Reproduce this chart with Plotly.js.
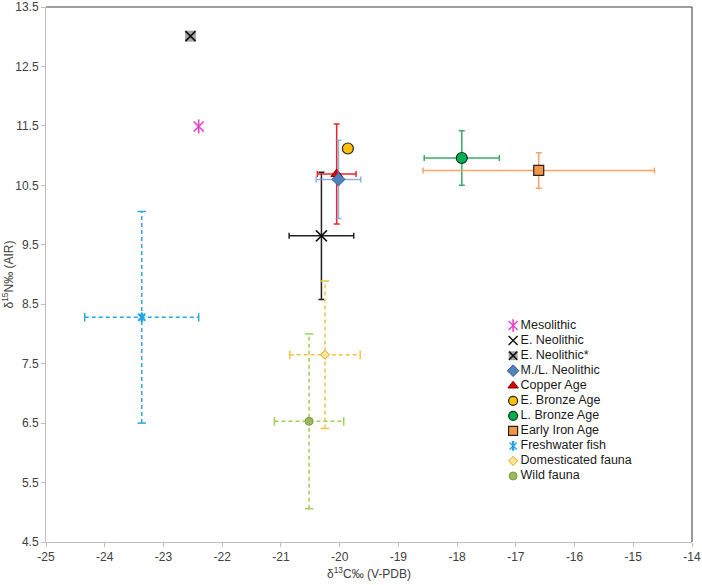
<!DOCTYPE html>
<html>
<head>
<meta charset="utf-8">
<script src="https://cdn.plot.ly/plotly-3.0.1.min.js"></script>
<style>html,body{margin:0;padding:0;background:#fff;}#chart{width:702px;height:585px;}</style>
</head>
<body>
<div id="chart"></div>
<script>
// ---- data ----
const categories = ['Mesolithic','E. Neolithic','E. Neolithic*','M./L. Neolithic','Copper Age','E. Bronze Age','L. Bronze Age','Early Iron Age','Freshwater fish','Domesticated fauna','Wild fauna'];
const d13C = [-22.40,-20.31,-22.54,-20.02,-20.05,-19.86,-17.92,-16.61,-23.37,-20.25,-20.52];
const d15N = [11.49,9.65,13.01,10.60,10.69,11.12,10.96,10.75,8.28,7.65,6.53];
const sdC  = [null,0.55,null,0.38,0.33,null,0.64,1.97,0.97,0.60,0.59];
const sdN  = [null,1.07,null,0.66,0.84,null,0.46,0.30,1.78,1.24,1.47];
const xTicks = [-25,-24,-23,-22,-21,-20,-19,-18,-17,-16,-15,-14];
const yTicks = [4.5,5.5,6.5,7.5,8.5,9.5,10.5,11.5,12.5,13.5];

// ---- styles ----
const styles = [
  {sym:'x-thin-open', sym2:'line-ns-open', color:'#ea3ccf', line:'#ea3ccf', lw:1.6, size:10, bar:'#ea3ccf'},
  {sym:'x-thin-open', color:'#111', line:'#111', lw:1.5, size:11, bar:'#222', thick:1.5},
  {sym:'square', sym2:'x-thin-open', color:'#a6a6a6', line:'#a6a6a6', lw:0, size:11, line2:'#111', lw2:1.6, size2:10, bar:'#222'},
  {sym:'diamond', color:'#4f81bd', line:'#3a5f8f', lw:1, size:10, bar:'rgba(110,150,215,0.75)', thick:1.5},
  {sym:'triangle-up', color:'#e00000', line:'#7a0000', lw:1, size:10, bar:'#e8262a', thick:1.5},
  {sym:'circle', color:'#ffc000', line:'#222', lw:1.2, size:11, bar:'#ffc000'},
  {sym:'circle', color:'#00b050', line:'#113322', lw:1.2, size:11, bar:'#3daa6b', thick:1.5},
  {sym:'square', color:'#f79646', line:'#222', lw:1.2, size:10, bar:'#f5a565', thick:1.5},
  {sym:'x-thin-open', sym2:'line-ns-open', color:'#1fa5e0', line:'#1fa5e0', lw:2.2, size:7, bar:'#2aa8e0', dashed:true},
  {sym:'diamond', color:'#ffe699', line:'#d9a520', lw:1, size:7, bar:'#f5c242', dashed:true},
  {sym:'circle', color:'#9bbb59', line:'#7f9a45', lw:1, size:8, bar:'#9bcf5a', dashed:true}
];

const drawOrder = [0,1,2,4,3,5,6,7,8,9,10];
const traces = [];

function markerOf(s){
  return {symbol:s.sym, size:s.size, color:s.color, line:{color:s.line, width:s.lw}};
}
function marker2Of(s, scale){
  const sz = (s.size2 || s.size) * (scale||1);
  return {symbol:s.sym2, size:sz, color:s.line2||s.line, line:{color:s.line2||s.line, width:s.lw2||s.lw}};
}

drawOrder.forEach(i=>{
  const s = styles[i];
  const x = d13C[i], y = d15N[i];
  if (s.dashed) {
    traces.push({type:'scatter', mode:'lines+markers', x:[x - sdC[i], x + sdC[i]], y:[y, y],
      line:{color:s.bar, width:1.5, dash:'4px,3px'},
      marker:{symbol:'line-ns-open', size:6, line:{color:s.bar, width:1.5}},
      hoverinfo:'skip', showlegend:false});
    traces.push({type:'scatter', mode:'lines+markers', x:[x, x], y:[y - sdN[i], y + sdN[i]],
      line:{color:s.bar, width:1.5, dash:'4px,3px'},
      marker:{symbol:'line-ew-open', size:6, line:{color:s.bar, width:1.5}},
      hoverinfo:'skip', showlegend:false});
    traces.push({type:'scatter', mode:'markers', x:[x], y:[y], name:categories[i],
      marker:markerOf(s), showlegend:false});
  } else {
    const t = {type:'scatter', mode:'markers', x:[x], y:[y], name:categories[i],
      marker:markerOf(s), showlegend:false};
    if (sdC[i] != null) t.error_x = {type:'data', array:[sdC[i]], visible:true, color:s.bar, thickness:s.thick||1.5, width:3};
    if (sdN[i] != null) t.error_y = {type:'data', array:[sdN[i]], visible:true, color:s.bar, thickness:s.thick||1.5, width:3};
    traces.push(t);
  }
  if (s.sym2) {
    traces.push({type:'scatter', mode:'markers', x:[x], y:[y], hoverinfo:'skip',
      marker:marker2Of(s), showlegend:false});
  }
});

// ---- custom legend on a secondary axis pair ----
const legIdx = categories.map((c,i)=>i);
categories.forEach((c,i)=>{
  const s = styles[i];
  const k = Math.min(1, 9 / s.size);
  traces.push({type:'scatter', mode:'markers', x:[0], y:[i], xaxis:'x2', yaxis:'y2', hoverinfo:'skip',
    marker:{symbol:s.sym, size:s.size*k, color:s.color, line:{color:s.line, width:Math.min(s.lw,1.4)}}, showlegend:false});
  if (s.sym2) traces.push({type:'scatter', mode:'markers', x:[0], y:[i], xaxis:'x2', yaxis:'y2', hoverinfo:'skip',
    marker:marker2Of(s, k), showlegend:false});
});
traces.push({type:'scatter', mode:'text', x:legIdx.map(()=>0.5), y:legIdx, text:categories,
  textposition:'middle right', xaxis:'x2', yaxis:'y2', hoverinfo:'skip', cliponaxis:false,
  textfont:{family:'Liberation Sans, Arial, sans-serif', size:12.5, color:'#1a1a1a'}, showlegend:false});

const tickFont = {family:'Liberation Sans, Arial, sans-serif', size:12, color:'#404040'};

const layout = {
  width:702, height:585,
  margin:{l:46, r:10, t:7, b:43},
  paper_bgcolor:'#fff', plot_bgcolor:'#fff',
  showlegend:false,
  xaxis:{range:[-25,-14], tickvals:xTicks, ticktext:xTicks.map(String), showgrid:false, zeroline:false,
    showline:true, linecolor:'#bfbfbf', linewidth:1, ticks:'outside', ticklen:4, tickcolor:'#bfbfbf',
    tickfont:tickFont, automargin:false, ticklabeloverflow:'allow',
    title:{text:'δ<sup>13</sup>C‰ (V-PDB)', font:{family:'Liberation Sans, Arial, sans-serif', size:12, color:'#404040'}, standoff:6}},
  yaxis:{range:[4.5,13.5], tickvals:yTicks, ticktext:yTicks.map(v=>v.toFixed(1)), showgrid:false, zeroline:false,
    showline:true, linecolor:'#bfbfbf', linewidth:1, ticks:'outside', ticklen:4, tickcolor:'#bfbfbf',
    tickfont:tickFont, automargin:false, ticklabeloverflow:'allow',
    title:{text:'δ<sup>15</sup>N‰ (AIR)', font:{family:'Liberation Sans, Arial, sans-serif', size:12, color:'#404040'}, standoff:4}},
  xaxis2:{domain:[0.70,1.0], range:[-1,12], visible:false, fixedrange:true},
  yaxis2:{domain:[0.1093,0.4186], range:[10.5,-0.5], visible:false, fixedrange:true, anchor:'x2'},
  shapes:[
    {type:'line', xref:'paper', yref:'paper', x0:0, x1:1, y0:1, y1:1, line:{color:'#7f7f7f', width:1.5}},
    {type:'line', xref:'paper', yref:'paper', x0:1, x1:1, y0:0, y1:1, line:{color:'#555', width:1.2}}
  ]
};

Plotly.newPlot('chart', traces, layout, {staticPlot:true, displayModeBar:false});
</script>
</body>
</html>
